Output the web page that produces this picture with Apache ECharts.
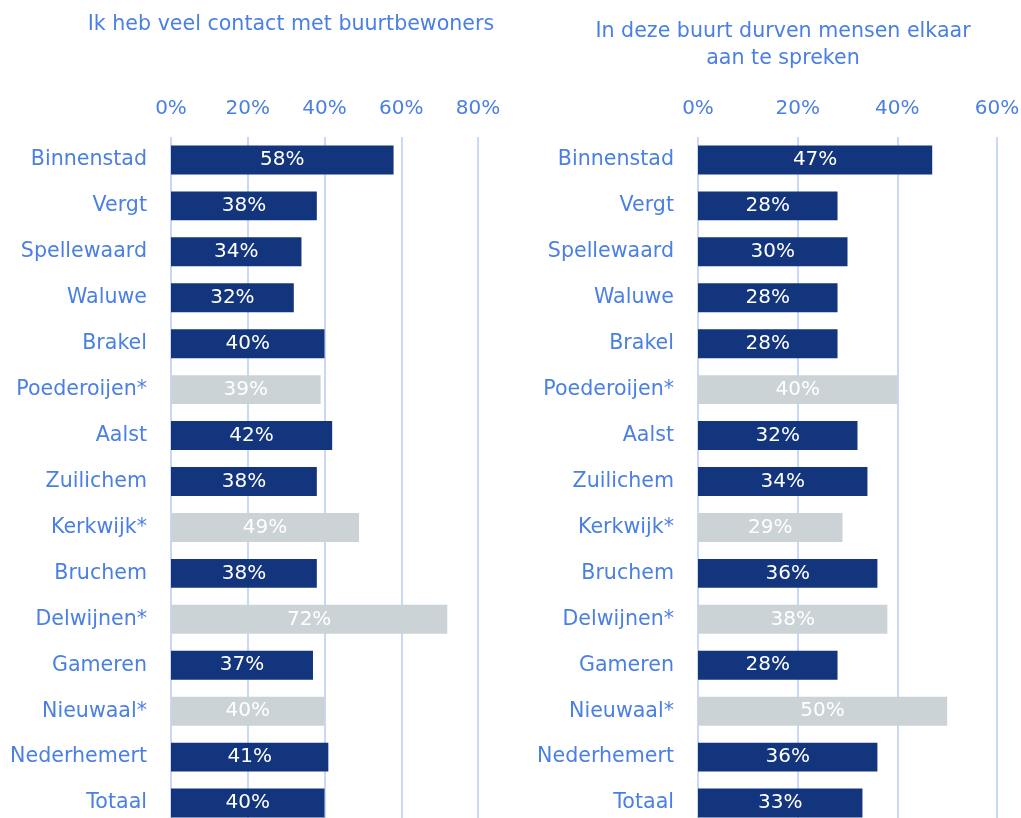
<!DOCTYPE html>
<html lang="nl">
<head>
    <meta charset="UTF-8">
    <title>Contact in de buurt</title>
    <script src="https://cdn.jsdelivr.net/npm/echarts@6/dist/echarts.min.js"></script>
    <style>
        html, body { margin: 0; padding: 0; background: #fff; }
        #chart { width: 1021px; height: 818px; }
    </style>
</head>
<body>
<div id="chart"></div>
<script>
    var wijken = ['Binnenstad', 'Vergt', 'Spellewaard', 'Waluwe', 'Brakel', 'Poederoijen*', 'Aalst',
        'Zuilichem', 'Kerkwijk*', 'Bruchem', 'Delwijnen*', 'Gameren', 'Nieuwaal*', 'Nederhemert', 'Totaal'];
    // Ik heb veel contact met buurtbewoners
    var contact = [58, 38, 34, 32, 40, 39, 42, 38, 49, 38, 72, 37, 40, 41, 40];
    // In deze buurt durven mensen elkaar aan te spreken
    var aanspreken = [47, 28, 30, 28, 28, 40, 32, 34, 29, 36, 38, 28, 50, 36, 33];
    var ticksLinks = [0, 20, 40, 60, 80];
    var ticksRechts = [0, 20, 40, 60];

    var blauw = '#4a7fe3';
    var donker = '#13357d';
    var grijs = '#ccd3d6';
    var font = 'DejaVu Sans';

    // sterretje = kleine steekproef, grijze balk
    function maakData(waarden) {
        return waarden.map(function (v, i) {
            return {
                value: v,
                itemStyle: { color: wijken[i].indexOf('*') >= 0 ? grijs : donker }
            };
        });
    }

    function xAs(idx, ticks) {
        return {
            gridIndex: idx,
            type: 'value',
            position: 'top',
            min: 0,
            max: ticks[ticks.length - 1],
            interval: 20,
            axisLine: { show: false },
            axisTick: { show: false },
            splitLine: { lineStyle: { color: '#c8d8f6', width: 2 } },
            axisLabel: { formatter: '{value}%', color: blauw, fontSize: 20, fontFamily: font, margin: 18 }
        };
    }

    function yAs(idx) {
        return {
            gridIndex: idx,
            type: 'category',
            data: wijken,
            inverse: true,
            axisLine: { show: false },
            axisTick: { show: false },
            axisLabel: { color: blauw, fontSize: 20.6, fontFamily: font, margin: 24 }
        };
    }

    function reeks(idx, waarden) {
        return {
            type: 'bar',
            xAxisIndex: idx,
            yAxisIndex: idx,
            data: maakData(waarden),
            barCategoryGap: '37%',
            label: {
                show: true,
                position: 'inside',
                color: '#fff',
                fontSize: 20,
                fontFamily: font,
                formatter: '{c}%'
            }
        };
    }

    var myChart = echarts.init(document.getElementById('chart'));
    var option = {
        animation: false,
        title: [{
            text: 'Ik heb veel contact met buurtbewoners',
            left: 286, top: 9, textAlign: 'center',
            textStyle: { color: blauw, fontSize: 20.6, fontWeight: 'normal', fontFamily: font }
        }, {
            text: 'In deze buurt durven mensen elkaar\naan te spreken',
            left: 778, top: 13, textAlign: 'center',
            textStyle: { color: blauw, fontSize: 20.6, fontWeight: 'normal', fontFamily: font, lineHeight: 27 }
        }],
        grid: [
            { left: 171, width: 307, top: 137, height: 689, outerBoundsMode: 'none' },
            { left: 698, width: 299, top: 137, height: 689, outerBoundsMode: 'none' }
        ],
        xAxis: [xAs(0, ticksLinks), xAs(1, ticksRechts)],
        yAxis: [yAs(0), yAs(1)],
        series: [reeks(0, contact), reeks(1, aanspreken)]
    };
    myChart.setOption(option);
</script>
</body>
</html>
